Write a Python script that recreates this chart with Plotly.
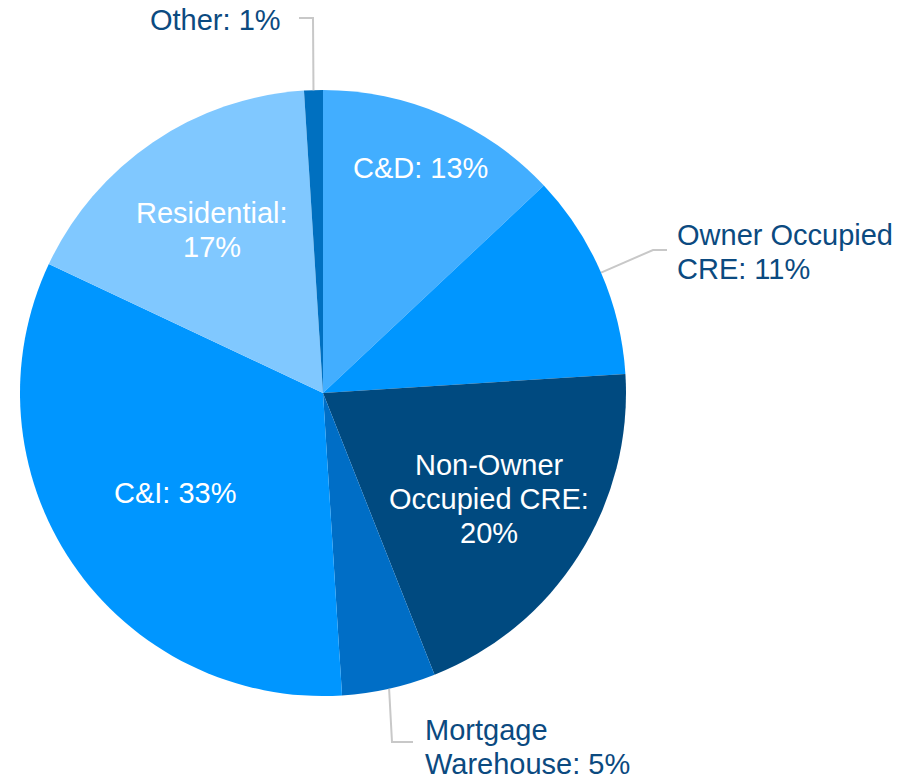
import numpy as np
import plotly.graph_objects as go

# loan portfolio mix, clockwise from 12 o'clock
labels = ["C&D", "Owner Occupied<br>CRE", "Non-Owner<br>Occupied CRE", "Mortgage<br>Warehouse",
          "C&I", "Residential", "Other"]
values = [13, 11, 20, 5, 33, 17, 1]
separators = [" ", " ", ":<br>", " ", " ", ":<br>", " "]
colors = ["#42AEFF", "#0096FF", "#004A80", "#006EC6", "#0096FF", "#80C8FF", "#0070C0"]

# page body has an 8px margin, so the figure sits at (8, 8) in the window
OFF = 8
W, H = 908 - OFF, 777 - OFF
cx, cy, R = 323, 393, 303  # pie centre / radius in window px

FONT = "Liberation Sans, Arial, sans-serif"
FSIZE = 29
LINE = 34  # line spacing in px
DARK = "#0B4A80"


def px(x, y):
    return (x - OFF) / W, 1 - (y - OFF) / H


fig = go.Figure(go.Pie(
    labels=labels,
    values=values,
    sort=False,
    direction="clockwise",
    rotation=0,
    marker=dict(colors=colors, line=dict(width=0)),
    textinfo="none",
    hoverinfo="label+percent",
    showlegend=False,
    domain=dict(x=[px(cx - R, 0)[0], px(cx + R, 0)[0]],
                y=[px(0, cy + R)[1], px(0, cy - R)[1]]),
))

total = sum(values)
cum = np.cumsum([0] + values[:-1])
mid = [(c + v / 2) / total * 2 * np.pi for c, v in zip(cum, values)]

texts = []
for lab, v, sep in zip(labels, values, separators):
    if sep == ":<br>":
        texts.append(f"{lab}:<br>{v}%")
    else:
        texts.append(f"{lab}: {v}%")


def add_label(text, x, y, anchor, color):
    # one annotation per line so the line spacing can be set
    lines = text.split("<br>")
    n = len(lines)
    for k, ln in enumerate(lines):
        ly = y + (k - (n - 1) / 2) * LINE
        ax, ay = px(x, ly)
        fig.add_annotation(x=ax, y=ay, xref="paper", yref="paper", text=ln, showarrow=False,
                           xanchor=anchor, yanchor="middle", borderpad=0,
                           font=dict(family=FONT, size=FSIZE, color=color))


# inside labels: radius as a fraction of R along the slice mid-angle
inside = {0: 0.81, 2: 0.65, 4: 0.59, 5: 0.65}
for i, f in inside.items():
    x = cx + f * R * np.sin(mid[i])
    y = cy - f * R * np.cos(mid[i])
    add_label(texts[i], x, y, "center", "white")

# outside labels with elbow leader lines (text pos, anchor, elbow, line end)
outside = {
    1: dict(t=(676, 252), anchor="left", elbow=(653, 250), end=(667, 250)),
    3: dict(t=(424, 747), anchor="left", elbow=(392, 742), end=(413, 742)),
    6: dict(t=(282, 20), anchor="right", elbow=(313, 18), end=(299, 18)),
}
for i, o in outside.items():
    ex = cx + R * np.sin(mid[i])
    ey = cy - R * np.cos(mid[i])
    pts = [px(ex, ey), px(*o["elbow"]), px(*o["end"])]
    path = "M {} {} L {} {} L {} {}".format(*[c for p in pts for c in p])
    fig.add_shape(type="path", path=path, xref="paper", yref="paper",
                  line=dict(color="#C8C8C8", width=2))
    add_label(texts[i], o["t"][0], o["t"][1], o["anchor"], DARK)

fig.update_layout(
    width=W, height=H,
    margin=dict(l=0, r=0, t=0, b=0),
    paper_bgcolor="white",
    plot_bgcolor="white",
)

fig.write_html("out.html")
